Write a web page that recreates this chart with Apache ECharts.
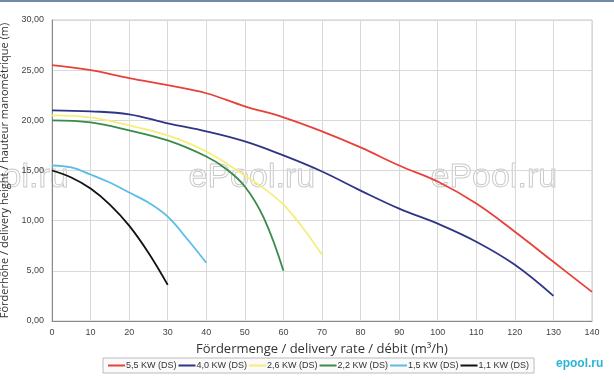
<!DOCTYPE html>
<html><head><meta charset="utf-8">
<script src="https://cdn.jsdelivr.net/npm/echarts@6/dist/echarts.min.js"></script>
<style>html,body{margin:0;padding:0;background:#fff}#c{width:614px;height:380px}</style>
</head><body><div id="c"></div>
<script>
const seriesNames = ['5,5 KW (DS)','4,0 KW (DS)','2,6 KW (DS)','2,2 KW (DS)','1,5 KW (DS)','1,1 KW (DS)'];
const colors = ['#e8413a','#2e3585','#f4ef7a','#3a8a4a','#5bbde6','#111111'];
const x55 = [0,10,20,30,40,50,60,70,80,90,100,110,120,130,140];
const y55 = [25.5,25.0,24.2,23.5,22.7,21.4,20.3,18.9,17.3,15.5,13.9,11.7,8.9,5.9,2.9];
const x40 = [0,10,20,30,40,50,60,70,80,90,100,110,120,130];
const y40 = [21.0,20.9,20.6,19.7,18.9,17.9,16.5,14.9,13.0,11.2,9.7,7.9,5.6,2.5];
const x26 = [0,10,20,30,40,50,55,60,65,70];
const y26 = [20.5,20.3,19.5,18.5,16.9,14.5,13.2,11.6,9.3,6.6];
const x22 = [0,10,20,30,40,45,50,55,60];
const y22 = [20.0,19.8,19.0,18.0,16.4,15.2,13.4,10.2,5.0];
const x15 = [0,5,10,15,20,25,30,35,40];
const y15 = [15.5,15.3,14.6,13.8,12.8,11.8,10.4,8.2,5.8];
const x11 = [0,5,10,15,20,25,30];
const y11 = [15.0,14.3,13.2,11.6,9.5,6.8,3.6];
const xs = [x55,x40,x26,x22,x15,x11];
const ys = [y55,y40,y26,y22,y15,y11];

const chart = echarts.init(document.getElementById('c'), null, {renderer:'canvas'});
const font = 'Arial, "Liberation Sans", sans-serif';
chart.setOption({
  animation:false,
  backgroundColor:'#fff',
  grid:{left:52,right:22,top:20,bottom:59,show:true,borderColor:'#c8c8c8',borderWidth:1,containLabel:false,outerBoundsMode:'none'},
  xAxis:{type:'value',min:0,max:140,interval:10,
    name:'Fördermenge / delivery rate / débit (m³/h)',nameLocation:'middle',nameGap:22,
    nameTextStyle:{fontFamily:'"Open Sans", sans-serif',fontSize:13,color:'#333'},
    axisLine:{lineStyle:{color:'#8a8a8a'}},axisTick:{show:false},
    axisLabel:{fontFamily:font,fontSize:9,color:'#444',margin:7},
    splitLine:{lineStyle:{color:'#d9d9d9'}}},
  yAxis:{type:'value',min:0,max:30,interval:5,
    name:'Förderhöhe / delivery height / hauteur manométrique (m)',nameLocation:'middle',nameGap:37,
    nameTextStyle:{fontFamily:'"Open Sans", sans-serif',fontSize:11,color:'#333'},
    axisLine:{show:true,lineStyle:{color:'#8a8a8a'}},axisTick:{show:false},
    axisLabel:{fontFamily:font,fontSize:9,color:'#444',margin:8,formatter:v=>v.toFixed(2).replace('.',',')},
    splitLine:{lineStyle:{color:'#d9d9d9'}}},
  legend:{bottom:7,left:103,itemWidth:17,itemHeight:2,itemGap:2,icon:'rect',
    borderColor:'#bbb',borderWidth:1,padding:[3,5],backgroundColor:'#fafafa',
    textStyle:{fontFamily:font,fontSize:9,color:'#333',padding:[0,0,0,-4]},data:seriesNames},
  graphic:[
    {type:'rect',left:0,top:0,shape:{width:614,height:2},style:{fill:'#6f8aa3'}},
    {type:'text',left:2,top:160,style:{text:'ol.ru',fontFamily:'Arial',fontSize:34,fill:'rgba(255,255,255,0)',stroke:'rgba(120,120,120,0.4)',lineWidth:1}},
    {type:'text',left:188,top:160,style:{text:'ePool.ru',fontFamily:'Arial',fontSize:34,fill:'rgba(255,255,255,0)',stroke:'rgba(120,120,120,0.4)',lineWidth:1}},
    {type:'text',left:430,top:160,style:{text:'ePool.ru',fontFamily:'Arial',fontSize:34,fill:'rgba(255,255,255,0)',stroke:'rgba(120,120,120,0.4)',lineWidth:1}},
    {type:'text',left:556,top:358,style:{text:'epool.ru',fontFamily:'Arial',fontSize:12,fontWeight:'bold',fill:'#2ab5d6'}}
  ],
  series: seriesNames.map((n,i)=>({name:n,type:'line',smooth:0.4,showSymbol:false,
    lineStyle:{width:1.8,color:colors[i]},itemStyle:{color:colors[i]},
    data: xs[i].map((x,j)=>[x,ys[i][j]])}))
});
</script></body></html>
